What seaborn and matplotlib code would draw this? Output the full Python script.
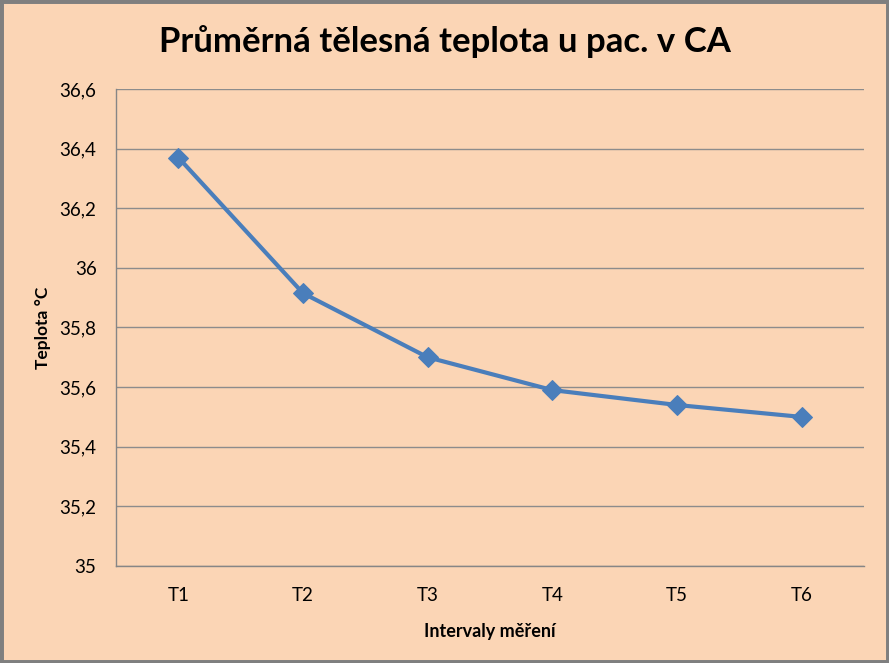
import matplotlib
matplotlib.use("Agg")
import matplotlib.pyplot as plt
import seaborn as sns
import pandas as pd
from matplotlib.patches import Rectangle
from matplotlib.ticker import FuncFormatter, MultipleLocator

intervals = ["T1", "T2", "T3", "T4", "T5", "T6"]
teplota = [36.37, 35.915, 35.70, 35.59, 35.54, 35.50]

bg = "#FBD5B5"
line_color = "#4A7EBB"

sns.set_style("white")
plt.rcParams["font.family"] = ["Lato", "DejaVu Sans"]

df = pd.DataFrame({"interval": intervals, "teplota": teplota})

fig = plt.figure(figsize=(8.89, 6.63), dpi=100, facecolor=bg)
ax = fig.add_axes([0.1305, 0.1463, 0.8415, 0.7195])
ax.set_facecolor(bg)

x = list(range(len(intervals)))
sns.lineplot(x=x, y=df["teplota"], ax=ax, color=line_color, linewidth=3,
             marker="D", markersize=10.5, markeredgecolor=line_color)

ax.set_xlim(-0.5, len(intervals) - 0.5)
ax.set_ylim(35, 36.6)
ax.yaxis.set_major_locator(MultipleLocator(0.2))
ax.yaxis.set_major_formatter(FuncFormatter(
    lambda v, p: f"{v:.1f}".rstrip("0").rstrip(".").replace(".", ",")))
ax.set_xticks([i - 0.5 for i in range(len(intervals) + 1)], minor=False)
ax.set_xticklabels([])
ax.set_xticks(x, minor=True)
ax.set_xticklabels(intervals, minor=True)
ax.tick_params(axis="x", which="major", length=6, color="#868686", direction="out")
ax.tick_params(axis="x", which="minor", length=0, labelsize=13.5, pad=15,
               labelcolor="black")
ax.tick_params(axis="y", length=6, color="#868686", direction="out",
               labelsize=13.5, pad=8, labelcolor="black")
ax.grid(axis="y", color="#8C8C8C", linewidth=1)
ax.set_axisbelow(True)
for s in ["top", "right"]:
    ax.spines[s].set_visible(False)
for s in ["left", "bottom"]:
    ax.spines[s].set_color("#868686")
    ax.spines[s].set_linewidth(1)

ax.set_xlabel("Intervaly měření", fontsize=13, fontweight="bold", labelpad=14,
              color="black")
ax.set_ylabel("Teplota °C", fontsize=12.5, fontweight="bold", labelpad=6,
              color="black")
fig.text(0.5, 0.937, "Průměrná tělesná teplota u pac. v CA", ha="center",
         va="center", fontsize=25, fontweight="bold", color="black")

fig.patches.append(Rectangle((0, 0), 1, 1, transform=fig.transFigure,
                             fill=False, edgecolor="#7F7F7F", linewidth=5))

fig.savefig("out.png", dpi=100, facecolor=bg)
